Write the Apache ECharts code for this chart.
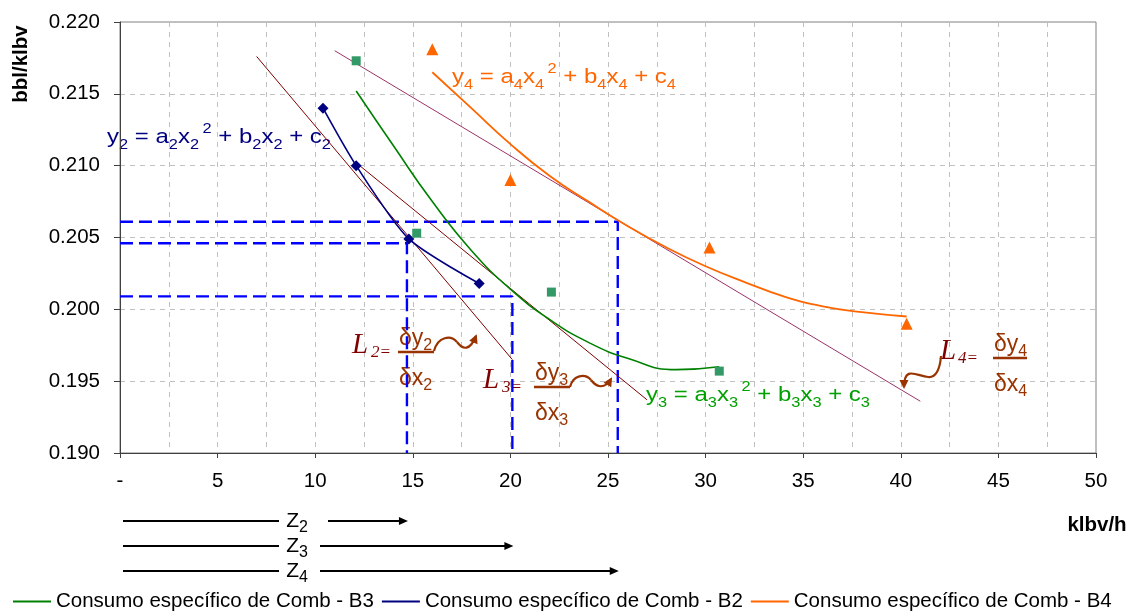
<!DOCTYPE html>
<html>
<head>
<meta charset="utf-8">
<title>Consumo específico de Comb</title>
<script src="https://cdn.jsdelivr.net/npm/echarts@6/dist/echarts.min.js"></script>
<style>
html, body { margin:0; padding:0; background:#fff; }
#main { width:1140px; height:615px; }
</style>
</head>
<body>
<div id="main"></div>
<script>
// pontos medidos (klbv/h , bbl/klbv)
var b2X = [10.4, 12.1, 14.8, 18.4];
var b2Y = [0.2140, 0.2100, 0.2049, 0.2018];
var b3X = [12.1, 15.2, 22.1, 30.7];
var b3Y = [0.2173, 0.2053, 0.2012, 0.1957];
var b4X = [16.0, 20.0, 30.2, 40.3];
var b4Y = [0.2181, 0.2090, 0.2043, 0.1990];

// linhas de tendencia (polinomio)
var b3TrendX = [12.1, 14.0, 16.0, 18.0, 20.0, 22.0, 24.0, 26.0, 28.5, 30.7];
var b3TrendY = [0.2152, 0.2114, 0.2075, 0.2041, 0.2014, 0.1993, 0.1977, 0.1966, 0.1958, 0.1960];
var b4TrendX = [16.0, 18.0, 20.0, 22.0, 24.0, 26.0, 28.0, 30.0, 32.0, 34.0, 36.0, 38.0, 40.3];
var b4TrendY = [0.2165, 0.2140, 0.2115, 0.2093, 0.2075, 0.2058, 0.2043, 0.2030, 0.2019, 0.2009, 0.2002, 0.1998, 0.1995];

// retas tangentes L2, L3, L4
var tanNames = ['L2', 'L3', 'L4'];
var tanX = [[7.0, 20.1], [12.1, 27.0], [11.0, 41.0]];
var tanY = [[0.2176, 0.1965], [0.2102, 0.1937], [0.2180, 0.1936]];
var tanColors = ['#800000', '#800000', '#993366'];

// pontos de tangencia (tracejado azul e setas Z)
var zNames = ['2', '3', '4'];
var zX = [14.7, 20.1, 25.5];
var zY = [0.2046, 0.2009, 0.2061];

var xMin = 0, xMax = 50, xStep = 5;
var yMin = 0.190, yMax = 0.220, yStep = 0.005;

var legendNames = ['Consumo específico de Comb - B3', 'Consumo específico de Comb - B2', 'Consumo específico de Comb - B4'];

var FONT = 'Liberation Sans, Arial, sans-serif';
var SERIF = 'Liberation Serif, Times New Roman, serif';

function pairs(xs, ys) {
    var out = [];
    for (var i = 0; i < xs.length; i++) {
        out.push([xs[i], ys[i]]);
    }
    return out;
}

var series = [
    {
        name: legendNames[0], type: 'line', smooth: 0.5, showSymbol: false, symbol: 'none',
        data: pairs(b3TrendX, b3TrendY),
        itemStyle: { color: '#008000' }, lineStyle: { color: '#008000', width: 1.6 }, z: 4
    },
    {
        name: legendNames[1], type: 'line', smooth: 0.25, symbol: 'diamond', symbolSize: 11,
        data: pairs(b2X, b2Y),
        itemStyle: { color: '#000080' }, lineStyle: { color: '#000080', width: 1.6 }, z: 6
    },
    {
        name: legendNames[2], type: 'line', smooth: 0.5, showSymbol: false, symbol: 'none',
        data: pairs(b4TrendX, b4TrendY),
        itemStyle: { color: '#FF6600' }, lineStyle: { color: '#FF6600', width: 1.8 }, z: 4
    },
    {
        name: 'B3 pontos', type: 'scatter', symbol: 'rect', symbolSize: 9,
        data: pairs(b3X, b3Y), itemStyle: { color: '#339966', opacity: 1 }, z: 6
    },
    {
        name: 'B4 pontos', type: 'scatter', symbol: 'triangle', symbolSize: 12,
        data: pairs(b4X, b4Y), itemStyle: { color: '#FF6600', opacity: 1 }, z: 6
    }
];

for (var i = 0; i < tanX.length; i++) {
    series.push({
        name: tanNames[i], type: 'line', symbol: 'none',
        data: pairs(tanX[i], tanY[i]),
        lineStyle: { color: tanColors[i], width: 1 }, z: 3
    });
}
for (var i = 0; i < zX.length; i++) {
    series.push({
        name: 'guia' + zNames[i], type: 'line', symbol: 'none',
        data: [[xMin, zY[i]], [zX[i], zY[i]], [zX[i], yMin]],
        lineStyle: { color: '#0000FF', width: 2.4, type: [13, 6] }, z: 2
    });
}

var chart = echarts.init(document.getElementById('main'));
chart.setOption({
    animation: false,
    backgroundColor: '#fff',
    textStyle: { fontFamily: FONT },
    grid: {
        left: 120, right: 44, top: 22, bottom: 162,
        show: true, borderColor: '#808080', borderWidth: 1, backgroundColor: '#fff'
    },
    legend: {
        data: legendNames,
        left: 13, top: 591, padding: 0,
        icon: 'rect', itemWidth: 38, itemHeight: 2, itemGap: 8,
        itemStyle: { borderWidth: 0 },
        textStyle: { fontSize: 20.5, color: '#000', fontFamily: FONT }
    },
    xAxis: {
        type: 'value', min: xMin, max: xMax, interval: xStep,
        axisLine: { show: true, lineStyle: { color: '#404040', width: 1 } },
        axisTick: { show: true, length: 5, lineStyle: { color: '#404040' } },
        axisLabel: {
            margin: 18, fontSize: 20.5, color: '#000', fontFamily: FONT,
            formatter: function (v) { return v === 0 ? '-' : String(v); }
        },
        splitLine: { show: true, lineStyle: { color: '#C0C0C0', type: [5, 5], width: 1 } },
        minorTick: { show: false, splitNumber: 2 },
        minorSplitLine: { show: true, lineStyle: { color: '#C0C0C0', type: [5, 5], width: 1 } }
    },
    yAxis: {
        type: 'value', min: yMin, max: yMax, interval: yStep,
        axisLine: { show: true, lineStyle: { color: '#404040', width: 1 } },
        axisTick: { show: true, length: 6, lineStyle: { color: '#404040' } },
        axisLabel: {
            margin: 20, fontSize: 20.5, color: '#000', fontFamily: FONT,
            formatter: function (v) { return v.toFixed(3); }
        },
        splitLine: { show: true, lineStyle: { color: '#C0C0C0', type: [5, 5], width: 1 } }
    },
    series: series
});

// ---- anotacoes ----
function richFor(color, base, small, supPad) {
    return {
        b: { fontSize: base, lineHeight: 30, fill: color, fontFamily: FONT },
        s: { fontSize: small, lineHeight: small, verticalAlign: 'bottom', fill: color, fontFamily: FONT },
        p: { fontSize: small, lineHeight: small + 2, verticalAlign: 'top', fill: color, fontFamily: FONT, padding: [0, 0, 0, supPad || 0] }
    };
}
function eqText(n) {
    return '{b|y}{s|' + n + '}{b| = a}{s|' + n + '}{b|x}{s|' + n + '}{p|2}{b| + b}{s|' + n +
        '}{b|x}{s|' + n + '}{b| + c}{s|' + n + '}';
}

var graphics = [];

// titulos dos eixos
graphics.push({
    type: 'text', x: 21, y: 64, rotation: Math.PI / 2,
    style: { text: 'bbl/klbv', fontSize: 20.5, fontWeight: 'bold', fontFamily: FONT, fill: '#000', align: 'center', verticalAlign: 'middle' }
});
graphics.push({
    type: 'text', x: 1097, y: 525,
    style: { text: 'klbv/h', fontSize: 20.5, fontWeight: 'bold', fontFamily: FONT, fill: '#000', align: 'center', verticalAlign: 'middle' }
});

// equacoes
var eqPos = [[107, 137, '#000080', '2'], [452, 77, '#FF6600', '4'], [646, 395, '#00A000', '3']];
eqPos.forEach(function (e) {
    graphics.push({
        type: 'text', x: e[0], y: e[1], scaleX: 1.17,
        style: { text: eqText(e[3]), rich: richFor(e[2], 20.5, 14, 3), align: 'left', verticalAlign: 'middle' }
    });
});

// fracoes L = dy/dx com seta ondulada
var BROWN = '#993300';
function fraction(n, bx, by, bw, offL, offN) {
    graphics.push({
        type: 'text', x: bx - offL, y: by - 7,
        style: { text: 'L', fontSize: 29, fontStyle: 'italic', fontFamily: SERIF, fill: '#800000', align: 'left', verticalAlign: 'middle' }
    });
    graphics.push({
        type: 'text', x: bx - offN, y: by + 1,
        style: { text: n + '=', fontSize: 17, fontStyle: 'italic', fontFamily: SERIF, fill: '#800000', align: 'left', verticalAlign: 'middle' }
    });
    graphics.push({
        type: 'text', x: bx + 1, y: by - 13,
        style: { text: '{b|δy}{s|' + n + '}', rich: richFor(BROWN, 23, 16), align: 'left', verticalAlign: 'middle' }
    });
    graphics.push({
        type: 'line', shape: { x1: bx, y1: by, x2: bx + bw, y2: by },
        style: { stroke: BROWN, lineWidth: 2.5 }
    });
    graphics.push({
        type: 'text', x: bx + 1, y: by + 27,
        style: { text: '{b|δx}{s|' + n + '}', rich: richFor(BROWN, 23, 16), align: 'left', verticalAlign: 'middle' }
    });
}
function squiggle(p) {
    // p: [P0, C1, C2, P1, C3, C4, P2]
    graphics.push({
        type: 'bezierCurve',
        shape: { x1: p[0][0], y1: p[0][1], cpx1: p[1][0], cpy1: p[1][1], cpx2: p[2][0], cpy2: p[2][1], x2: p[3][0], y2: p[3][1] },
        style: { stroke: BROWN, lineWidth: 2.2, fill: null }
    });
    graphics.push({
        type: 'bezierCurve',
        shape: { x1: p[3][0], y1: p[3][1], cpx1: p[4][0], cpy1: p[4][1], cpx2: p[5][0], cpy2: p[5][1], x2: p[6][0], y2: p[6][1] },
        style: { stroke: BROWN, lineWidth: 2.2, fill: null }
    });
    var dx = p[6][0] - p[5][0], dy = p[6][1] - p[5][1];
    var len = Math.sqrt(dx * dx + dy * dy);
    dx /= len; dy /= len;
    var tipX = p[6][0] + dx * 2, tipY = p[6][1] + dy * 2;
    var bx = tipX - dx * 9, by = tipY - dy * 9;
    graphics.push({
        type: 'polygon',
        shape: { points: [[tipX, tipY], [bx - dy * 4.5, by + dx * 4.5], [bx + dy * 4.5, by - dx * 4.5]] },
        style: { fill: BROWN }
    });
}

fraction('2', 398, 352, 36, 46, 27);
squiggle([[434, 351], [438, 336], [451, 335], [457, 342], [463, 350], [470, 351], [476, 336]]);
fraction('3', 534, 387, 36, 51, 32);
squiggle([[570, 387], [573, 375], [585, 373], [591, 380], [597, 388], [605, 389], [611, 379]]);
fraction('4', 993, 358, 34, 53, 35);
squiggle([[941, 356], [940, 369], [936, 378], [928, 377], [917, 376], [904, 365], [904, 387]]);

// setas Z abaixo do eixo
var rowY = [521, 546, 571];
var px0 = chart.convertToPixel({ gridIndex: 0 }, [xMin, yMin]);
for (var i = 0; i < zX.length; i++) {
    var pEnd = chart.convertToPixel({ gridIndex: 0 }, [zX[i], yMin]);
    var y = rowY[i];
    var startX = px0[0] + 3;
    var labelX = px0[0] + 177;
    graphics.push({ type: 'line', shape: { x1: startX, y1: y, x2: labelX - 18, y2: y }, style: { stroke: '#000', lineWidth: 2 } });
    graphics.push({ type: 'line', shape: { x1: labelX + (i === 0 ? 31 : 23), y1: y, x2: pEnd[0] - 6, y2: y }, style: { stroke: '#000', lineWidth: 2 } });
    graphics.push({ type: 'polygon', shape: { points: [[pEnd[0] + 1, y], [pEnd[0] - 8, y - 4], [pEnd[0] - 8, y + 4]] }, style: { fill: '#000' } });
    graphics.push({
        type: 'text', x: labelX, y: y,
        style: { text: '{b|Z}{s|' + zNames[i] + '}', rich: richFor('#000', 21, 16), align: 'center', verticalAlign: 'middle' }
    });
}

chart.setOption({ graphic: graphics });
</script>
</body>
</html>
